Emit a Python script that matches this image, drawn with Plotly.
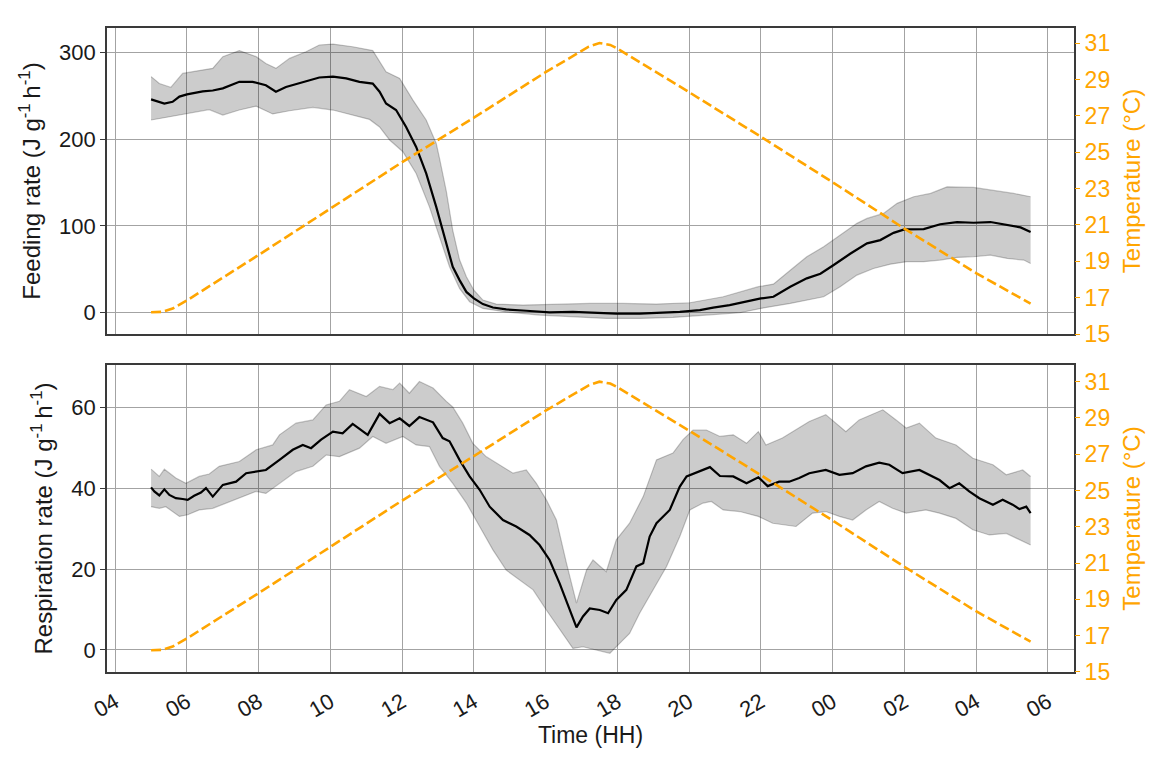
import pandas as pd
import plotly.graph_objects as go

# ---------------- data (time in decimal hours after midnight of day 1) ----------------
feed_mean_t = [5.0, 5.37, 5.60, 5.79, 6.00, 6.44, 6.72, 7.00, 7.46, 7.83, 8.20, 8.48, 8.76, 9.32, 9.69,
               10.07, 10.44, 10.81, 11.18, 11.37, 11.55, 11.83, 12.11, 12.39, 12.67, 12.95, 13.13, 13.23,
               13.41, 13.60, 13.79, 14.00, 14.25, 14.53, 14.90, 15.46, 16.11, 16.76, 17.32, 17.97, 18.62,
               19.18, 19.74, 20.30, 20.67, 21.13, 21.60, 22.00, 22.35, 22.82, 23.28, 23.66, 24.03, 24.49,
               24.96, 25.33, 25.70, 26.00, 26.54, 27.00, 27.47, 27.93, 28.40, 28.87, 29.24, 29.52]
feed_mean = [245.8, 241, 243, 249, 251.5, 255, 256, 258.5, 266, 266, 262, 254.6, 260, 267, 271,
             272, 270, 266, 264, 254.6, 241, 233.5, 214, 191, 160.5, 122, 95, 80,
             53, 37.6, 24, 16.5, 10, 6, 3.8, 2.3, 0.5, 1, 0, -1, -1,
             0, 1, 3, 6, 8.8, 12.7, 16.5, 18.4, 30, 39.6, 45, 55, 68,
             80, 83.7, 92, 96, 96.4, 102, 104.5, 103.7, 104.5, 100.6, 98.3, 93]

feed_up_t = [5.0, 5.23, 5.55, 5.88, 6.34, 6.72, 7.00, 7.46, 7.93, 8.20, 8.48, 8.86, 9.32, 9.69, 10.07,
             10.62, 11.18, 11.55, 11.93, 12.30, 12.67, 12.95, 13.04, 13.23, 13.41, 13.60, 13.79, 14.00,
             14.25, 14.62, 15.37, 16.30, 17.23, 18.16, 19.09, 20.02, 20.95, 21.93, 22.35, 22.82, 23.28,
             23.75, 24.21, 24.68, 24.96, 25.42, 25.80, 26.26, 26.73, 27.19, 27.93, 28.49, 29.05, 29.52]
feed_up = [272, 264, 259.6, 275.7, 279, 281.5, 295, 302, 295, 287, 281.5, 293, 300.7, 308.4, 309.5,
           306.4, 302, 277.6, 270, 245, 222, 195, 178, 140, 95, 61, 41.5, 26,
           14.6, 10, 8.8, 10, 10.8, 10.8, 10, 11.5, 18.4, 30, 33, 49, 64.5,
           76, 89.5, 103, 108.7, 114.4, 126, 133.6, 137.5, 145, 144.4, 141, 137.5, 133.6]

feed_lo_t = [5.0, 5.41, 5.97, 6.62, 7.00, 7.46, 7.93, 8.39, 8.86, 9.51, 10.07, 10.62, 11.09, 11.37,
             11.65, 12.02, 12.39, 12.76, 13.04, 13.32, 13.60, 13.88, 14.25, 14.90, 15.83, 16.76, 17.69,
             18.62, 19.55, 20.48, 21.41, 22.00, 22.82, 23.75, 24.21, 24.68, 25.14, 25.61, 26.07, 26.54,
             27.00, 27.47, 27.93, 28.40, 28.87, 29.33, 29.52]
feed_lo = [222, 225, 229.6, 234, 227.7, 233.5, 238, 229, 232.7, 236.6, 233.5, 227.7, 222.7, 214,
           199, 185.5, 160.5, 122, 88, 53, 28, 12.7, 5, 1, -2.7, -4.6, -6.5,
           -6.5, -5.4, -2.7, 0, 5, 10.8, 18.4, 30, 43.4, 51, 56, 58.8, 58.8,
           60.7, 63.7, 64.5, 66.4, 62.6, 60.7, 56.8]

resp_mean_t = [5.0, 5.09, 5.23, 5.37, 5.51, 5.69, 5.88, 6.02, 6.20, 6.39, 6.53, 6.72, 7.00, 7.37, 7.65,
               7.93, 8.20, 8.58, 8.95, 9.23, 9.46, 9.74, 10.07, 10.34, 10.62, 11.04, 11.37, 11.65, 11.93,
               12.20, 12.48, 12.86, 13.13, 13.32, 13.60, 13.88, 14.16, 14.44, 14.81, 15.18, 15.55, 15.83,
               16.11, 16.39, 16.67, 16.86, 17.04, 17.23, 17.51, 17.74, 17.97, 18.25, 18.53, 18.72, 18.90,
               19.09, 19.46, 19.74, 19.93, 20.11, 20.39, 20.58, 20.86, 21.23, 21.60, 21.93, 22.19, 22.51,
               22.79, 23.07, 23.35, 23.81, 24.19, 24.56, 24.93, 25.30, 25.58, 25.95, 26.42, 26.79, 26.98,
               27.26, 27.53, 27.81, 28.09, 28.47, 28.74, 29.02, 29.21, 29.40, 29.52]
resp_mean = [40.3, 39.3, 38.3, 39.8, 38.4, 37.6, 37.4, 37.2, 38.2, 39, 40.1, 38, 40.9, 41.7, 43.8,
             44.2, 44.6, 47.1, 49.6, 50.8, 50, 52.1, 54.1, 53.7, 56, 53.3, 58.5, 56.2, 57.4,
             55.5, 57.7, 56.4, 52.5, 51.7, 47.1, 43, 39.7, 35.5, 32.2, 30.6, 28.5, 26,
             22.3, 16.5, 9.9, 5.6, 8.3, 10.3, 9.9, 9.1, 12.4, 14.9, 20.7, 21.5, 28.1,
             31.4, 34.7, 40.5, 43, 43.6, 44.6, 45.3, 43.1, 43, 41.3, 42.8, 40.6, 41.7,
             41.7, 42.6, 43.8, 44.6, 43.4, 43.8, 45.5, 46.4, 45.9, 43.8, 44.6, 43, 42.1,
             40.1, 41.3, 39.3, 37.6, 36, 37.2, 36, 34.9, 35.5, 33.9]

resp_up_t = [5.0, 5.23, 5.37, 5.69, 5.97, 6.34, 6.62, 6.90, 7.46, 7.93, 8.39, 8.58, 9.04, 9.51, 9.88,
             10.25, 10.53, 11.00, 11.37, 11.74, 11.93, 12.20, 12.48, 12.86, 13.23, 13.41, 13.69, 13.97,
             14.34, 14.72, 15.09, 15.46, 15.74, 16.02, 16.30, 16.58, 16.86, 17.14, 17.32, 17.69, 17.97,
             18.34, 18.72, 19.09, 19.55, 19.83, 20.11, 20.48, 20.86, 21.23, 21.60, 21.93, 22.14, 22.60,
             22.98, 23.35, 23.81, 24.37, 24.74, 25.40, 25.77, 26.05, 26.42, 26.88, 27.44, 27.91, 28.47,
             28.84, 29.30, 29.52]
resp_up = [44.8, 43, 44.8, 42.6, 41.3, 43, 43.6, 45.5, 46.7, 49.6, 50.8, 53.3, 56.2, 57, 60.7,
           61.6, 64.5, 62.8, 65.3, 64.5, 66.1, 63.6, 66.5, 64.9, 61.6, 60.2, 56.2, 51.2,
           47.9, 45.9, 43.8, 44.6, 41.3, 37.2, 32.2, 21.5, 11.6, 19.8, 22.3, 19.4, 27.3,
           31.4, 38, 47.1, 48.8, 52.1, 54.5, 54.5, 52.9, 53.3, 51.2, 54.1, 50.8, 52.5,
           54.5, 56.6, 58.3, 54.1, 57, 59.5, 57, 55, 56.2, 52.5, 50.8, 47.5, 45.9,
           43.4, 44.6, 43]

resp_lo_t = [5.0, 5.23, 5.41, 5.79, 6.02, 6.34, 6.72, 7.09, 7.46, 7.93, 8.20, 8.58, 9.04, 9.51, 9.88,
             10.25, 10.81, 11.18, 11.55, 12.02, 12.39, 12.76, 13.04, 13.41, 13.79, 14.16, 14.53, 14.90,
             15.27, 15.65, 16.02, 16.39, 16.76, 17.04, 17.41, 17.79, 18.07, 18.34, 18.62, 19.00, 19.37,
             19.74, 20.02, 20.39, 20.62, 20.95, 21.41, 21.93, 22.33, 22.98, 23.44, 23.81, 24.19, 24.56,
             24.93, 25.30, 25.67, 26.05, 26.60, 26.98, 27.44, 27.91, 28.37, 28.84, 29.21, 29.52]
resp_lo = [35.5, 35.1, 35.5, 33.1, 33.5, 34.7, 35.1, 36.4, 37.6, 39.3, 38.8, 41.3, 44.2, 45.5, 48.3,
           47.9, 50, 52.9, 51.2, 52.9, 50.8, 50.4, 45.5, 41.3, 36.4, 30.6, 24.8, 19.8,
           17.4, 14.9, 9.9, 5, 0.4, 0.8, 0, -0.8, 1.7, 4.1, 9.1, 14.9, 20.7,
           28.1, 34.7, 36.4, 36.8, 34.7, 34.3, 33.1, 31.4, 30.6, 33.9, 34.3, 33.1, 32.2,
           34.7, 36.8, 35.1, 33.9, 34.7, 33.9, 32.6, 29.8, 28.5, 28.9, 27.3, 26]

temp_t = [5.0, 5.3, 5.6, 6.0, 8.0, 10.0, 12.0, 14.0, 16.0, 17.2, 17.5, 17.8, 18.0, 20.0, 22.0, 24.0,
          26.0, 28.0, 29.52]
temp = [16.2, 16.22, 16.4, 16.85, 19.35, 21.9, 24.45, 26.9, 29.4, 30.8, 31.0, 30.9, 30.7, 28.3, 25.85,
        23.35, 20.8, 18.35, 16.67]

hour_ticks = ["04", "06", "08", "10", "12", "14", "16", "18", "20", "22", "00", "02", "04", "06"]
temp_ticks = [15, 17, 19, 21, 23, 25, 27, 29, 31]

BASE = pd.Timestamp("2021-06-01 00:00")


def to_time(hours):
    return [BASE + pd.Timedelta(hours=h) for h in hours]


ORANGE = "#FFA500"
FONT = "Liberation Sans, Arial, sans-serif"
GRID = "#a3a3a3"
FRAME = "#3a3a3a"
TXT = "#1a1a1a"

fig = go.Figure()


def add_panel(xa, ya, ya_t, mean_t, mean, up_t, up, lo_t, lo):
    band_x = to_time(up_t) + to_time(lo_t)[::-1]
    band_y = list(up) + list(lo)[::-1]
    fig.add_trace(go.Scatter(x=band_x, y=band_y, fill="toself", fillcolor="rgba(0,0,0,0.2)",
                             line=dict(width=0), mode="lines", hoverinfo="skip",
                             xaxis=xa, yaxis=ya, showlegend=False))
    for tt, vv in ((up_t, up), (lo_t, lo)):
        fig.add_trace(go.Scatter(x=to_time(tt), y=vv, mode="lines",
                                 line=dict(color="rgba(0,0,0,0.22)", width=1.2),
                                 xaxis=xa, yaxis=ya, showlegend=False))
    fig.add_trace(go.Scatter(x=to_time(mean_t), y=mean, mode="lines",
                             line=dict(color="black", width=2.2),
                             xaxis=xa, yaxis=ya, showlegend=False))
    fig.add_trace(go.Scatter(x=to_time(temp_t), y=temp, mode="lines",
                             line=dict(color=ORANGE, width=2.6, dash="10px,4px"),
                             xaxis=xa, yaxis=ya_t, showlegend=False))


add_panel("x", "y", "y3", feed_mean_t, feed_mean, feed_up_t, feed_up, feed_lo_t, feed_lo)
add_panel("x2", "y2", "y4", resp_mean_t, resp_mean, resp_up_t, resp_up, resp_lo_t, resp_lo)

x_range = [BASE + pd.Timedelta(hours=3.771), BASE + pd.Timedelta(hours=30.73)]
tick_vals = [BASE + pd.Timedelta(hours=4 + 2 * i) for i in range(len(hour_ticks))]

xcommon = dict(range=x_range, showgrid=True, gridcolor=GRID, gridwidth=1.2, automargin=False,
               tickvals=tick_vals, ticktext=hour_ticks, showline=True, mirror=True,
               linecolor=FRAME, linewidth=1.6, zeroline=False, ticks="")
ycommon = dict(showgrid=True, gridcolor=GRID, gridwidth=1.2, showline=True, mirror=True,
               automargin=False,
               linecolor=FRAME, linewidth=1.6, zeroline=False, ticks="outside", ticklen=5,
               tickcolor=FRAME, tickfont=dict(size=22, color=TXT, family=FONT))
tcommon = dict(side="right", showgrid=False, zeroline=False, automargin=False,
               tickvals=temp_ticks, ticks="outside", ticklen=5, tickcolor=ORANGE,
               tickfont=dict(size=23, color=ORANGE, family=FONT),
               title=dict(text="Temperature (°C)", font=dict(size=24, color=ORANGE, family=FONT),
                          standoff=14))

fig.update_layout(
    width=1152, height=758,
    margin=dict(l=107, r=78, t=28, b=86),
    paper_bgcolor="white", plot_bgcolor="white",
    font=dict(family=FONT, size=22, color=TXT),
    showlegend=False,
    xaxis=dict(xcommon, domain=[0, 1], anchor="y", showticklabels=False),
    xaxis2=dict(xcommon, domain=[0, 1], anchor="y2", tickangle=-30, ticklabelstandoff=7,
                tickfont=dict(size=22, color=TXT, family=FONT),
                title=dict(text="Time (HH)", font=dict(size=23, color=TXT, family=FONT), standoff=6)),
    yaxis=dict(ycommon, domain=[0.5248, 1], anchor="x", range=[-24.5, 328],
               tickvals=[0, 100, 200, 300],
               title=dict(text="Feeding rate (J g<sup>-1 </sup>h<sup>-1</sup>)",
                          font=dict(size=24, color=TXT, family=FONT), standoff=12)),
    yaxis2=dict(ycommon, domain=[0, 0.4767], anchor="x2", range=[-5.45, 70.6],
                tickvals=[0, 20, 40, 60],
                title=dict(text="Respiration rate (J g<sup>-1 </sup>h<sup>-1</sup>)",
                           font=dict(size=24, color=TXT, family=FONT), standoff=12)),
    yaxis3=dict(tcommon, overlaying="y", anchor="x", range=[15, 31.83]),
    yaxis4=dict(tcommon, overlaying="y2", anchor="x2", range=[15, 31.92]),
)

fig.write_html("out.html")
